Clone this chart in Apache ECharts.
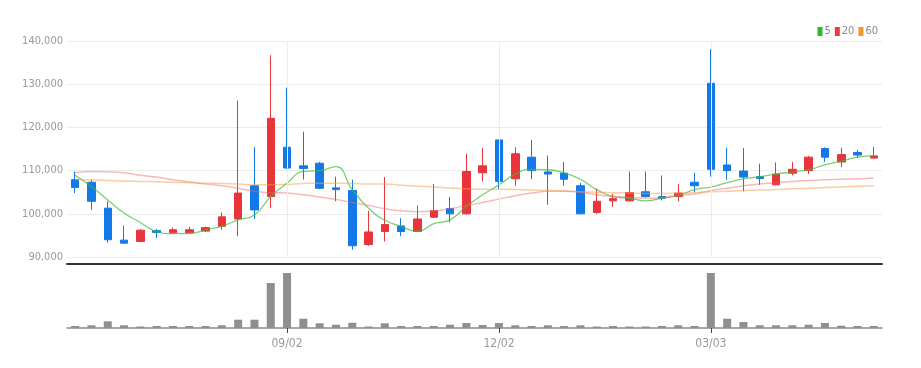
<!DOCTYPE html>
<html>
<head>
<meta charset="utf-8">
<script src="https://cdn.jsdelivr.net/npm/echarts@6/dist/echarts.min.js"></script>
<style>
  html, body { margin: 0; padding: 0; background: #fff; }
  #chart { width: 921px; height: 368px; }
</style>
</head>
<body>
<div id="chart"></div>
<script>
// weekly candles, 2024-06-03 .. 2025-05-12
var dates = ['06/03','06/10','06/17','06/24','07/01','07/08','07/15','07/22','07/29','08/05',
    '08/12','08/19','08/26','09/02','09/09','09/16','09/23','09/30','10/07','10/14',
    '10/21','10/28','11/04','11/11','11/18','11/25','12/02','12/09','12/16','12/23',
    '12/30','01/06','01/13','01/20','01/27','02/03','02/10','02/17','02/24','03/03',
    '03/10','03/17','03/24','03/31','04/07','04/14','04/21','04/28','05/05','05/12']

var opens = [107900,107300,101300,93900,93600,96100,95600,95600,96000,97100,
    98800,106500,104000,115400,111100,111700,106000,105400,92900,95900,
    97200,95900,99200,101200,100000,109500,117100,108100,113100,109700,
    109400,106500,100300,103000,103000,105100,104000,104000,107300,130200,
    111300,109900,108600,106700,109400,110000,115100,112000,114200,112900]
var closes = [106100,102900,94000,93200,96200,95700,96300,96300,96800,99300,
    104800,100900,122100,110600,110500,105900,105600,92600,95800,97500,
    95900,98800,100700,100000,109800,111100,107500,113900,110000,109200,
    108000,100000,102900,103500,104900,104000,103600,104800,106500,110300,
    110000,108500,108200,109200,110300,113100,113100,113700,113600,113400]
var lows = [104800,100900,93300,93100,93500,94400,95400,95500,95800,96300,
    94800,98800,101300,110400,107900,105700,102900,91700,92600,93600,
    94800,95800,99000,98000,99800,107500,105700,106500,108000,102100,
    106500,99900,100000,101600,102800,103800,103100,102900,105000,108600,
    107900,105200,106700,106600,108900,109200,112000,110800,112900,112800]
var highs = [109800,107900,102900,97300,96500,96500,96800,97000,97000,100300,
    126200,115400,136700,129200,119000,112000,108600,107900,100700,108500,
    99000,101900,106900,103900,113900,115200,117200,115400,117100,113500,
    112000,107100,105800,104600,109800,109800,108900,106900,109500,138100,
    115300,115200,111600,111900,112000,113400,115400,115300,114800,115500]

var ma5 = [108900,106300,103200,100200,98000,95900,95400,95400,96300,97100,
    98600,99700,104000,107100,109800,110000,110900,105600,101300,98500,
    97100,95900,97700,98600,101700,104400,106700,109200,110300,110200,
    109500,108000,105600,104000,103600,103000,103600,104200,105600,106200,
    107200,108100,108600,109200,109700,110200,111300,112200,113100,113400]
var ma20 = [109500,109800,109700,109500,108900,108500,107900,107400,106900,106500,
    105900,105200,104900,104800,104400,103900,103300,102600,101900,101200,
    100700,100500,100700,101200,101900,102600,103400,104200,104800,105200,
    105200,105000,104400,104000,103800,103600,103800,104300,104600,105400,
    105900,106500,106900,107200,107500,107700,107900,108000,108100,108300]
var ma60 = [107900,107800,107700,107600,107500,107400,107300,107200,107100,107000,
    106900,106700,106700,106800,107000,107100,107100,107000,106900,106900,
    106600,106400,106200,106000,105800,105700,105700,105600,105500,105400,
    105300,105100,105000,104900,104800,104700,104700,104800,104900,105100,
    105200,105400,105500,105600,105800,105900,106100,106200,106400,106500]

var volumes = [20000,27000,67000,27000,15000,20000,20000,20000,20000,27000,
    83000,83000,450000,550000,93000,47000,33000,53000,15000,47000,
    20000,20000,20000,33000,50000,30000,50000,27000,20000,27000,
    20000,27000,15000,20000,15000,15000,20000,27000,20000,550000,
    93000,60000,27000,27000,27000,33000,50000,23000,20000,20000]

var yTicks = [90000, 100000, 110000, 120000, 130000, 140000]

var UP = '#e8343a'
var DOWN = '#1479e8'
var FONT = '"DejaVu Sans Condensed", "Liberation Sans Narrow", "Liberation Sans", sans-serif'

var candleData = dates.map((d, i) => [opens[i], closes[i], lows[i], highs[i]])

function labelEvery(i) {
    return i > 0 && i % 13 === 0
}

// vertical guide lines sit on the labelled weeks (candle centres)
var guideLines = dates
    .filter((d, i) => labelEvery(i))
    .map(d => ({ xAxis: d }))

var chart = echarts.init(document.getElementById('chart'))
chart.setOption({
    animation: false,
    legend: {
        right: 38,
        top: 21,
        icon: 'rect',
        itemWidth: 5,
        itemHeight: 9,
        itemGap: 4,
        textStyle: { color: '#8a8a8a', fontSize: 11, fontFamily: FONT, padding: [0, 0, 0, -3] },
        data: ['5', '20', '60']
    },
    grid: [
        { left: 67, right: 39, top: 41, height: 216 },
        { left: 67, right: 39, top: 265, height: 63 }
    ],
    xAxis: [
        {
            type: 'category',
            data: dates,
            gridIndex: 0,
            boundaryGap: true,
            offset: 7,
            axisLine: { show: true, lineStyle: { color: '#333', width: 2 } },
            axisTick: { show: false },
            axisLabel: { show: false },
            splitLine: { show: false }
        },
        {
            type: 'category',
            data: dates,
            gridIndex: 1,
            boundaryGap: true,
            axisLine: { show: true, lineStyle: { color: '#8c8c8c', width: 1.5 } },
            axisTick: { show: true, alignWithLabel: true, interval: labelEvery, length: 5, lineStyle: { color: '#444' } },
            axisLabel: { interval: labelEvery, color: '#999', fontSize: 12, fontFamily: FONT, margin: 10 },
            splitLine: { show: false }
        }
    ],
    yAxis: [
        {
            type: 'value',
            gridIndex: 0,
            min: yTicks[0],
            max: yTicks[yTicks.length - 1],
            interval: 10000,
            axisLine: { show: false },
            axisTick: { show: false },
            axisLabel: {
                color: '#999',
                fontSize: 11,
                fontFamily: FONT,
                margin: 4,
                formatter: v => v.toLocaleString('en-US')
            },
            splitLine: { lineStyle: { color: '#ececec' } }
        },
        {
            type: 'value',
            gridIndex: 1,
            min: 0,
            max: 630000,
            show: false,
            splitLine: { show: false }
        }
    ],
    series: [
        {
            name: 'guides',
            type: 'line',
            xAxisIndex: 0,
            yAxisIndex: 0,
            data: [],
            z: 1,
            silent: true,
            markLine: {
                silent: true,
                symbol: 'none',
                label: { show: false },
                lineStyle: { color: '#ececec', type: 'solid', width: 1 },
                data: guideLines
            }
        },
        {
            name: 'price',
            type: 'candlestick',
            xAxisIndex: 0,
            yAxisIndex: 0,
            barWidth: 8,
            z: 3,
            data: candleData,
            itemStyle: {
                color: UP,
                color0: DOWN,
                borderColor: UP,
                borderColor0: DOWN,
                borderWidth: 1
            }
        },
        {
            name: '5',
            type: 'line',
            data: ma5,
            smooth: true,
            symbol: 'none',
            z: 4,
            itemStyle: { color: '#2fb82f' },
            lineStyle: { color: '#3cbf3c', width: 1.3, opacity: 0.7 }
        },
        {
            name: '20',
            type: 'line',
            data: ma20,
            smooth: true,
            symbol: 'none',
            z: 4,
            itemStyle: { color: '#f03a3a' },
            lineStyle: { color: '#f06464', width: 1.5, opacity: 0.45 }
        },
        {
            name: '60',
            type: 'line',
            data: ma60,
            smooth: true,
            symbol: 'none',
            z: 4,
            itemStyle: { color: '#f5972c' },
            lineStyle: { color: '#f5a04a', width: 1.5, opacity: 0.5 }
        },
        {
            name: 'volume',
            type: 'bar',
            xAxisIndex: 1,
            yAxisIndex: 1,
            barWidth: 8,
            z: 3,
            data: volumes,
            itemStyle: { color: '#8f8f8f' }
        }
    ]
})
</script>
</body>
</html>
